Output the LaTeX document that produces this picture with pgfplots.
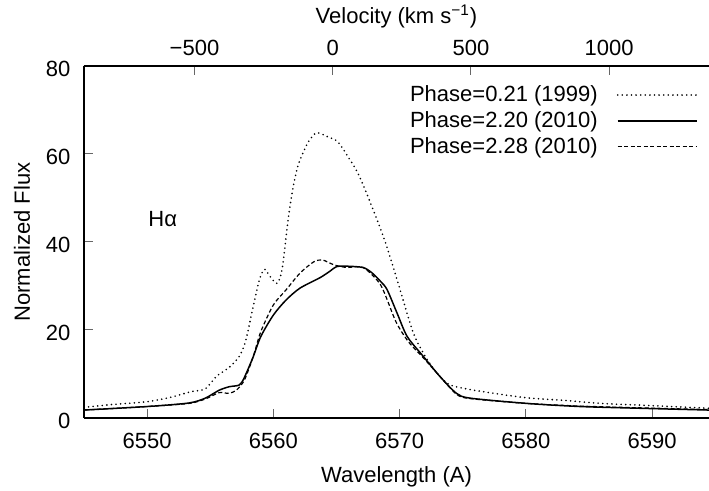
\documentclass[border=0pt]{standalone}
\usepackage{pgfplots}
\pgfplotsset{compat=1.18}
\usepackage{fontspec}
\setmainfont{Liberation Sans}

\begin{document}
\fontsize{11}{13.2}\selectfont
\begin{tikzpicture}
% wavelength axis (bottom, left)
\begin{axis}[
  scale only axis, width=312.5pt, height=176pt,
  xmin=6545, xmax=6594.5, ymin=0, ymax=80,
  axis y line*=left,
  xtick={6550,6560,6570,6580,6590},
  xticklabels={6550,6560,6570,6580,6590},
  ytick={0,20,40,60,80},
  xtick pos=bottom, ytick pos=left,
  tick align=inside, major tick length=4.5pt,
  tick style={black!60, line width=0.5pt},
  axis line style={line width=0.6pt},
  /pgf/number format/assume math mode=true,
  xticklabel style={anchor=base, yshift=-15.5pt},
  yticklabel style={anchor=east, xshift=-3pt, yshift=-1.4pt},
  xlabel={Wavelength (A)},
  xlabel style={at={(axis description cs:0.5,-0.1847)}, anchor=base},
  ylabel={Normalized Flux},
  ylabel style={at={(axis description cs:-0.0992,0.5)}, anchor=center},
  legend plot pos=right, legend cell align=right,
  legend style={draw=none, fill=none, at={(rel axis cs:1,1)}, anchor=north east,
    xshift=-2.5pt, yshift=-6.5pt, row sep=1.3pt, column sep=8.5pt, nodes={inner sep=1pt}},
  legend image code/.code={\draw[#1] (0pt,0pt) -- (39.5pt,0pt);},
]
\addplot[black, line width=0.9pt, line cap=round, dash pattern=on 0pt off 2.3pt,
         smooth, tension=0.45]
  coordinates {
  (6545,2.4) (6547,3.0) (6550,3.7) (6552,4.8) (6553.5,6.0) (6554.6,6.6)
  (6555.5,9.5) (6556.5,11.5) (6557.3,14.0) (6557.8,17.5) (6558.4,25.3)
  (6558.9,31.5) (6559.3,33.8) (6559.7,32.3) (6560.3,30.6) (6560.7,34.0)
  (6561.2,45.8) (6561.6,53.0) (6562.0,57.8) (6562.7,62.4) (6563.4,64.8)
  (6564.3,63.9) (6565.1,62.8) (6565.9,59.4) (6566.7,55.6) (6567.7,48.8)
  (6568.8,40.5) (6569.8,31.4) (6571.1,19.2) (6572.2,13.2) (6573.2,9.4)
  (6574.0,7.5) (6575.3,6.6) (6577,5.8) (6580,4.6) (6583,4.0) (6586,3.3)
  (6590,2.8) (6594.5,2.2)};
\addlegendentry{Phase=0.21 (1999)}
\addplot[black, line width=0.75pt, smooth, tension=0.45]
  coordinates {
  (6545,1.8) (6550,2.6) (6553.3,3.4) (6554.6,4.5) (6555.7,6.3) (6556.5,7.1)
  (6557.3,7.5) (6557.7,9.2) (6558.4,13.9) (6559.0,18.5) (6560.0,23.4)
  (6561.0,26.8) (6562.1,29.5) (6563.7,31.9) (6564.5,33.4) (6565.0,34.4)
  (6565.8,34.5) (6567.1,34.2) (6567.8,33.0) (6568.5,31.0) (6569.0,29.2)
  (6569.8,23.8) (6570.6,18.5) (6571.9,13.9) (6573.2,9.4) (6574.5,5.6)
  (6575.6,4.5) (6580.1,3.3) (6584.3,2.6) (6589.1,2.2) (6594.5,1.8)};
\addlegendentry{Phase=2.20 (2010)}
\addplot[black, line width=0.6pt, dash pattern=on 2pt off 1.25pt, smooth, tension=0.45]
  coordinates {
  (6545,1.8) (6550,2.6) (6553.3,3.3) (6554.6,4.3) (6555.7,5.75) (6556.5,5.6)
  (6557.1,6.4) (6557.7,8.6) (6558.4,13.9) (6559.0,19.6) (6560.0,25.7)
  (6561.0,29.1) (6562.1,32.9) (6563.2,35.5) (6563.9,35.9) (6564.8,34.8)
  (6565.8,34.2) (6567.1,34.2) (6568.5,30.2) (6569.7,21.9) (6570.7,17.3)
  (6571.9,13.6) (6573.2,9.4) (6574.5,5.4) (6575.6,4.4) (6580.1,3.3)
  (6584.3,2.7) (6589.1,2.3) (6594.5,1.9)};
\addlegendentry{Phase=2.28 (2010)}
\node[anchor=base west, inner sep=0pt] at (axis cs:6550.07,43.6) {Hα};
\coordinate (bl) at (rel axis cs:0,0);
\coordinate (tr) at (rel axis cs:1,1);
\end{axis}
% velocity axis (top)
\begin{axis}[
  scale only axis, width=312.5pt, height=176pt,
  xmin=-899.6, xmax=1360.9, ymin=0, ymax=80,
  axis x line*=top, axis y line=none,
  xtick={-500,0,500,1000}, xticklabels={−500,0,500,1000},
  tick align=inside, major tick length=4.5pt,
  tick style={black!60, line width=0.5pt},
  axis line style={line width=0.6pt},
  xticklabel style={anchor=base, yshift=5pt},
  xlabel={Velocity (km s\textsuperscript{−1})},
  xlabel style={at={(axis description cs:0.5,1.12)}, anchor=base},
]
\end{axis}
\pgfresetboundingbox
\path[use as bounding box] ([shift={(-42pt,-36.5pt)}]bl) rectangle ([shift={(0pt,33pt)}]tr);
\end{tikzpicture}
\end{document}
